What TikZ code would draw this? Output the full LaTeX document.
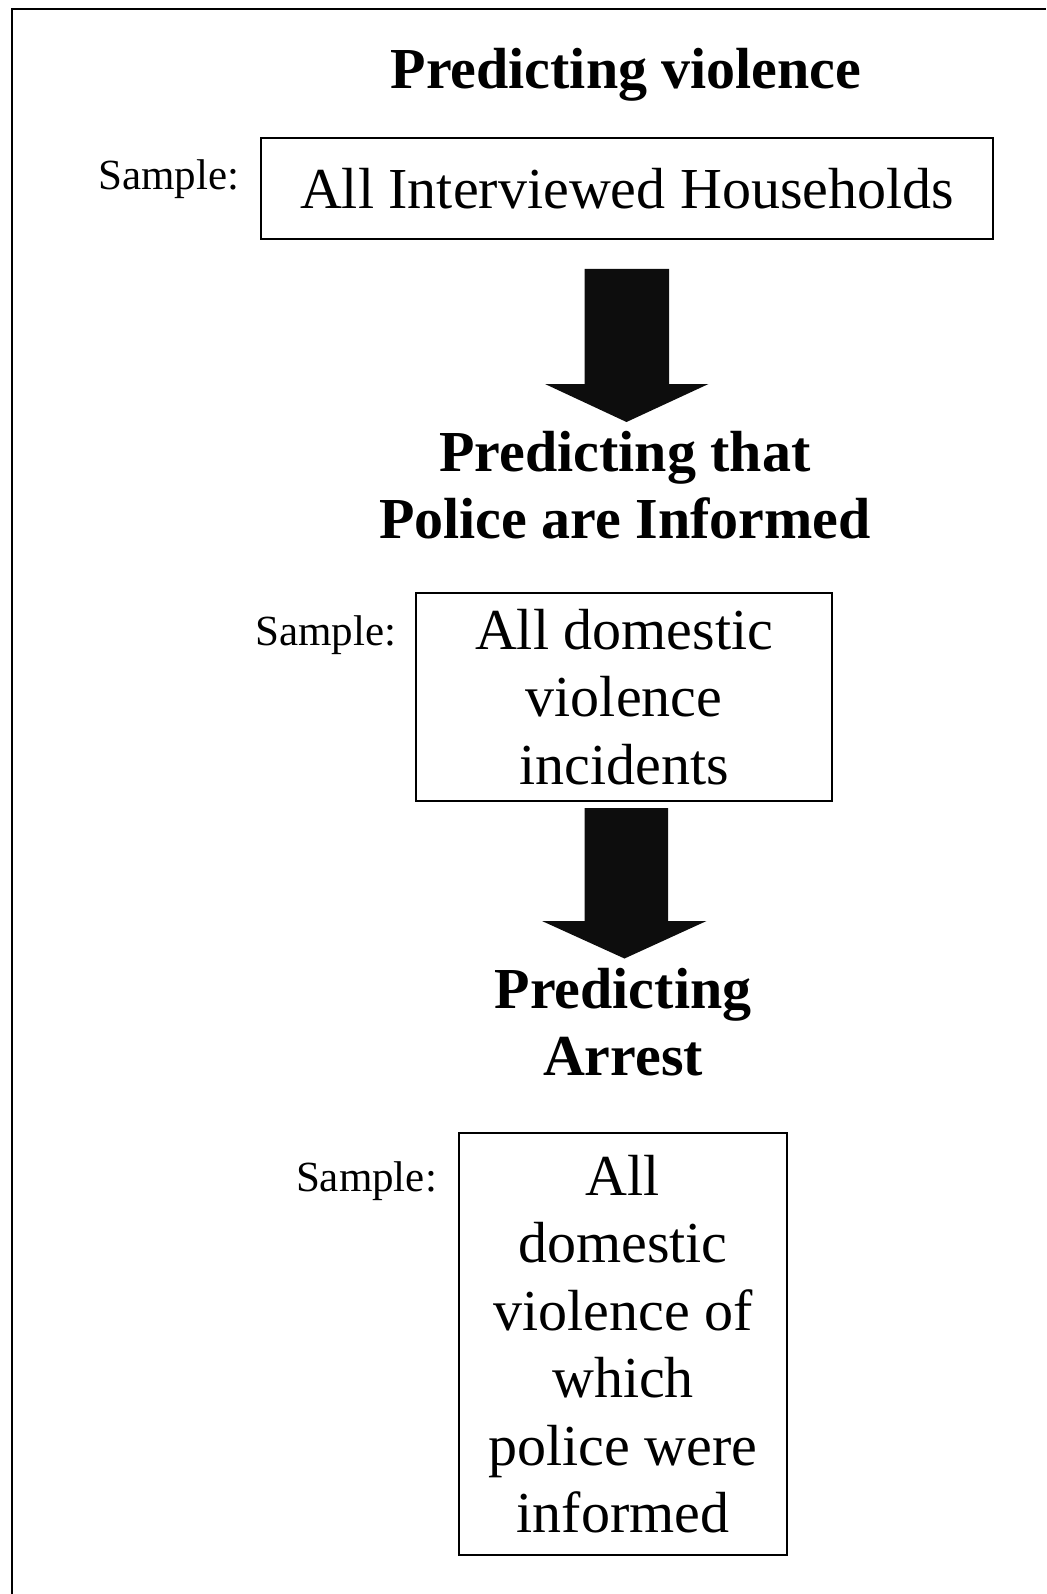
\documentclass[tikz,border=0pt]{standalone}
\usepackage{fontspec}
\setmainfont{Liberation Serif}
\begin{document}
\begin{tikzpicture}[x=1pt,y=-1pt,
  bigtext/.style={font=\fontsize{58}{67.5}\selectfont, align=center, inner sep=0pt},
  bigbold/.style={font=\fontsize{58}{67.5}\selectfont\bfseries, align=center, inner sep=0pt},
  samplebox/.style={draw, line width=1.7pt, font=\fontsize{58}{67.5}\selectfont, align=center, inner sep=0pt},
  samplelabel/.style={font=\fontsize{43}{50}\selectfont, inner sep=0pt},
  blockarrow/.style={fill=black!95},
  frameline/.style={line width=1.7pt}
]
\useasboundingbox (0,0) rectangle (1046,1594);
% frame
\coordinate (fbl) at (12,1594);
\coordinate (ftl) at (12,9);
\coordinate (ftr) at (1046,9);
\draw[frameline] (fbl) -- (ftl) -- (ftr);

% level 1
\node[bigbold] (t1) at (626,75) {Predicting violence};
\node[samplelabel] (s1) at (169,179) {Sample:};
\node[samplebox, minimum width=732pt, minimum height=101pt] (b1) at (627,188.5) {All Interviewed Households};

% arrow 1
\fill[blockarrow] (584.5,269) -- (669,269) -- (669,384) -- (708.5,384) -- (626.5,422) -- (545,384) -- (584.5,384) -- cycle;

% level 2
\node[bigbold] (t2) at (625,485) {Predicting that\\Police are Informed};
\node[samplelabel] (s2) at (326,635) {Sample:};
\node[samplebox, minimum width=416pt, minimum height=208pt] (b2) at (624,697) {All domestic\\violence\\incidents};

% arrow 2
\fill[blockarrow] (584.5,808) -- (668,808) -- (668,921) -- (706.5,921) -- (624.5,958.5) -- (542,921) -- (584.5,921) -- cycle;

% level 3
\node[bigbold] (t3) at (623,1022) {Predicting\\Arrest};
\node[samplelabel] (s3) at (366.5,1181) {Sample:};
\node[samplebox, minimum width=328.5pt, minimum height=422pt] (b3) at (623,1344) {All\\domestic\\violence of\\which\\police were\\informed};
\end{tikzpicture}
\end{document}
